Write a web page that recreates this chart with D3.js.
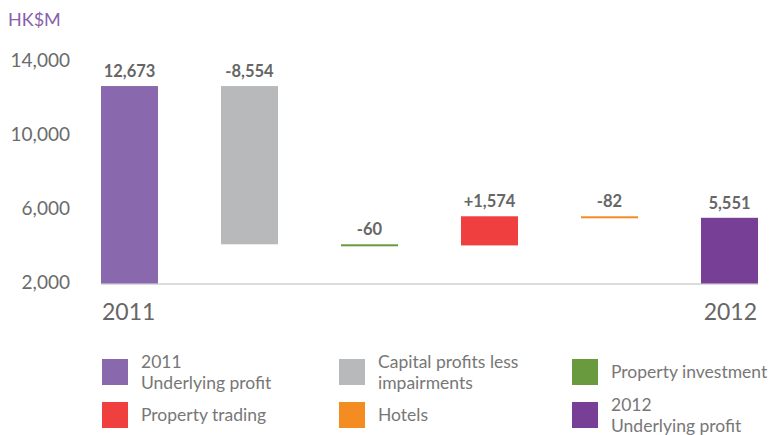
<!DOCTYPE html>
<html>
<head>
<meta charset="utf-8">
<script src="https://cdn.jsdelivr.net/npm/d3@7"></script>
<style>
  body { margin: 0; background: #fff; }
  text { font-family: Lato, "Open Sans", sans-serif; }
</style>
</head>
<body>
<script>
// waterfall data, HK$M
let steps = ["2011 Underlying profit", "Capital profits less impairments", "Property investment", "Property trading", "Hotels", "2012 Underlying profit"];
let changes = [12673, -8554, -60, 1574, -82, 5551];
let labels = ["12,673", "-8,554", "-60", "+1,574", "-82", "5,551"];
let colors = ["#8a68ae", "#b8b9bb", "#6a9a3e", "#ef3f3f", "#f38c21", "#773f95"];
let yTicks = [2000, 6000, 10000, 14000];
let yearLabels = ["2011", "2012"];

let w = 770, h = 435;

let svg = d3.select("body").append("svg")
  .attr("width", w)
  .attr("height", h);

// work out start/end of every step
let bars = [];
let running = 0;
for (let i = 0; i < changes.length; i++) {
  let lo, hi;
  if (i == 0 || i == changes.length - 1) {
    lo = 2000; hi = changes[i];
    running = changes[i];
  } else {
    let next = running + changes[i];
    lo = Math.min(running, next);
    hi = Math.max(running, next);
    running = next;
  }
  bars.push({name: steps[i], lo: lo, hi: hi, label: labels[i], color: colors[i]});
}

let x = d3.scaleBand()
  .domain(steps)
  .range([77, 782])
  .paddingInner(0.525)
  .paddingOuter(0.2);

let y = d3.scaleLinear()
  .domain([2000, 14000])
  .range([283.5, 61.5]);

// y axis labels
svg.selectAll(".tick")
  .data(yTicks)
  .enter()
  .append("text")
  .attr("x", 70)
  .attr("y", d => y(d) + 5)
  .attr("text-anchor", "end")
  .attr("font-size", 19)
  .attr("fill", "#6b6b6b")
  .text(d => d3.format(",")(d));

svg.append("text")
  .attr("x", 8)
  .attr("y", 26)
  .attr("font-size", 18)
  .attr("fill", "#8a5fad")
  .text("HK$M");

// baseline
svg.append("line")
  .attr("x1", x(steps[0]))
  .attr("x2", x(steps[5]) + x.bandwidth())
  .attr("y1", y(2000) + 0.5)
  .attr("y2", y(2000) + 0.5)
  .attr("stroke", "#d0d0d0")
  .attr("stroke-width", 1.5);

svg.selectAll(".bar")
  .data(bars)
  .enter()
  .append("rect")
  .attr("x", d => x(d.name))
  .attr("width", x.bandwidth())
  .attr("y", d => y(d.hi))
  .attr("height", d => Math.max(2, y(d.lo) - y(d.hi)))
  .attr("fill", d => d.color);

svg.selectAll(".val")
  .data(bars)
  .enter()
  .append("text")
  .attr("x", d => x(d.name) + x.bandwidth() / 2)
  .attr("y", d => y(d.hi) - 9)
  .attr("text-anchor", "middle")
  .attr("font-size", 16.5)
  .attr("font-weight", "bold")
  .attr("fill", "#666")
  .text(d => d.label);

// years under first and last bar
svg.append("text")
  .attr("x", x(steps[0]) + 1)
  .attr("y", 320)
  .attr("font-size", 23)
  .attr("fill", "#666")
  .text(yearLabels[0]);

svg.append("text")
  .attr("x", x(steps[5]) + x.bandwidth() - 1)
  .attr("y", 320)
  .attr("text-anchor", "end")
  .attr("font-size", 23)
  .attr("fill", "#666")
  .text(yearLabels[1]);

// legend
let legendLines = [["2011", "Underlying profit"], ["Capital profits less", "impairments"], ["Property investment"],
                   ["Property trading"], ["Hotels"], ["2012", "Underlying profit"]];
let legX = [102, 339, 572];
let legY = [359, 402];

let leg = svg.selectAll(".leg")
  .data(bars)
  .enter()
  .append("g")
  .attr("transform", (d, i) => "translate(" + legX[i % 3] + "," + legY[Math.floor(i / 3)] + ")");

leg.append("rect")
  .attr("width", 26)
  .attr("height", 26)
  .attr("fill", d => d.color);

leg.each(function(d, i) {
  let lines = legendLines[i];
  let t = d3.select(this).append("text")
    .attr("font-size", 17.5)
    .attr("fill", "#777");
  lines.forEach((ln, j) => {
    let base = lines.length == 1 ? 19 : 9 + j * 21;
    t.append("tspan").attr("x", 39).attr("y", base).text(ln);
  });
});
</script>
</body>
</html>
